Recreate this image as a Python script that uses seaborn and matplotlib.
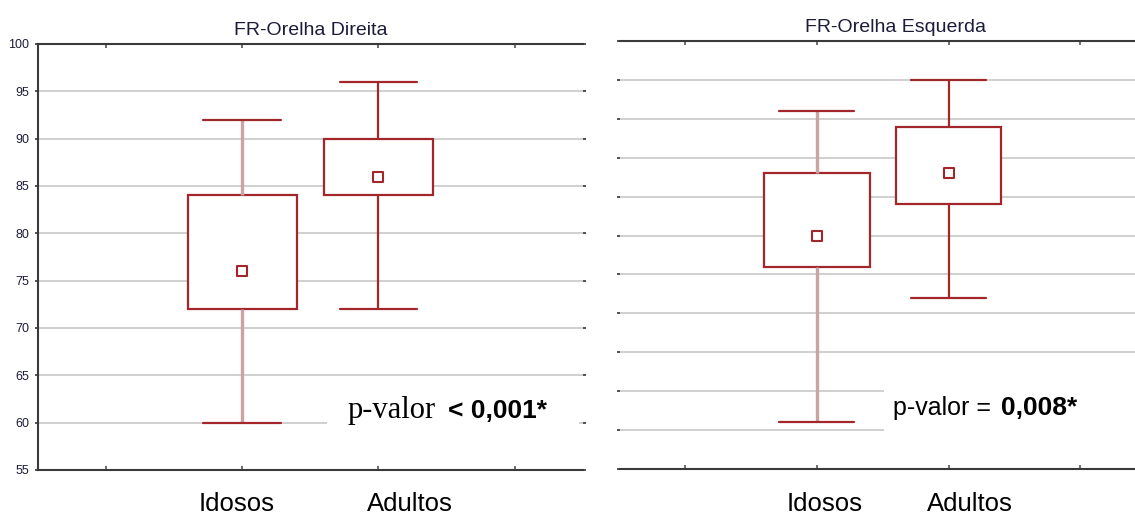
import matplotlib
matplotlib.use("Agg")
import matplotlib.pyplot as plt
from matplotlib.patches import Rectangle
import numpy as np
import pandas as pd
import seaborn as sns

groups = ["Idosos", "Adultos"]

# five-number summaries: min, Q1, median, Q3, max
direita_idosos = [60, 72, 76, 84, 92]
direita_adultos = [72, 84, 86, 90, 96]
esquerda_idosos = [51, 71, 75, 83, 91]
esquerda_adultos = [67, 79, 83, 89, 95]

titles = ["FR-Orelha Direita", "FR-Orelha Esquerda"]
p_text = [("p-valor", "< 0,001*"), ("p-valor = ", "0,008*")]
yticks_direita = list(range(55, 101, 5))
yticks_esquerda = list(range(45, 101, 5))

RED = "#a3262a"
STEM = "#caa4a4"
SPINE = "#3a3a3a"
TXT = "#1c1c3a"
W, H = 1135, 514

sns.set_style("white")
plt.rcParams["font.family"] = ["Liberation Sans", "DejaVu Sans"]


def frame(idosos, adultos):
    # with 5 values the linear 25/50/75th percentiles fall exactly on Q1/median/Q3
    return pd.DataFrame({"grupo": np.repeat(groups, 5), "FR": idosos + adultos})


def draw_panel(ax, df, yticks, title, title_x, show_labels):
    sns.boxplot(data=df, x="grupo", y="FR", order=groups, whis=(0, 100),
                width=0.8, color="white", linecolor=RED, linewidth=1.6,
                fliersize=0, capwidths=0.57, medianprops={"visible": False},
                ax=ax)
    cont = ax.containers[0]
    for line in cont.whiskers[:2]:
        line.set_color(STEM)
        line.set_linewidth(2.4)
    medians = df.groupby("grupo", sort=False)["FR"].median().reindex(groups)
    sns.stripplot(x=groups, y=medians.values, order=groups, jitter=False,
                  marker="s", size=6.5, color="white", edgecolor=RED,
                  linewidth=1.5, zorder=5, ax=ax)

    ax.set_xlim(-1.5, 2.5)
    ax.set_xticks([-1, 0, 1, 2])
    ax.set_xticklabels([])
    ax.set_ylim(yticks[0], yticks[-1])
    ax.set_yticks(yticks)
    ax.set_xlabel("")
    ax.set_ylabel("")
    ax.set_axisbelow(True)
    ax.grid(axis="y", color="#c8c8c8", linewidth=1.2)
    ax.grid(axis="x", visible=False)

    ax.tick_params(axis="x", direction="in", length=3, width=1.2,
                   top=True, bottom=True, color="#555555")
    ax.tick_params(axis="y", direction="out", length=2.5, width=1.2,
                   left=True, right=True, color="#333333",
                   labelsize=9, labelcolor=TXT, pad=4)
    if not show_labels:
        ax.set_yticklabels([])

    for side in ["top", "bottom"]:
        ax.spines[side].set_visible(True)
        ax.spines[side].set_color(SPINE)
        ax.spines[side].set_linewidth(1.5)
    ax.spines["right"].set_visible(False)
    ax.spines["left"].set_visible(show_labels)
    ax.spines["left"].set_color(SPINE)
    ax.spines["left"].set_linewidth(1.5)

    ax.set_title(title, x=title_x, pad=6.5, fontsize=14, color=TXT)


fig = plt.figure(figsize=(W / 100, H / 100), dpi=100)
ax_l = fig.add_axes([38 / W, 1 - 470 / H, (582.7 - 38) / W, (470 - 44) / H])
ax_r = fig.add_axes([619.5 / W, 1 - 469 / H, (1146 - 619.5) / W, (469 - 41) / H])

draw_panel(ax_l, frame(direita_idosos, direita_adultos), yticks_direita,
           titles[0], 0.5, True)
draw_panel(ax_r, frame(esquerda_idosos, esquerda_adultos), yticks_esquerda,
           titles[1], 0.525, False)

# white boxes behind the p-values (they hide the grid)
ax_l.add_patch(Rectangle((0.62, 57.6), 1.85, 5.2, facecolor="white",
                         edgecolor="none", zorder=1.5))
ax_r.add_patch(Rectangle((0.51, 47.4), 2.0, 10.2, facecolor="white",
                         edgecolor="none", zorder=1.5))

fig.text(348 / W, 1 - 418 / H, p_text[0][0], family="Liberation Serif",
         fontsize=22, va="baseline", ha="left", color="black")
fig.text(448 / W, 1 - 418 / H, p_text[0][1], fontsize=19, weight="bold",
         va="baseline", ha="left", color="black")
fig.text(893 / W, 1 - 415 / H, p_text[1][0], fontsize=18,
         va="baseline", ha="left", color="black")
fig.text(1001 / W, 1 - 415 / H, p_text[1][1], fontsize=19, weight="bold",
         va="baseline", ha="left", color="black")

for x, name in zip([236.5, 410, 825, 970], groups * 2):
    fig.text(x / W, 1 - 511 / H, name, fontsize=18.5, ha="center",
             va="baseline", color="black")

fig.savefig("out.png", dpi=100)
